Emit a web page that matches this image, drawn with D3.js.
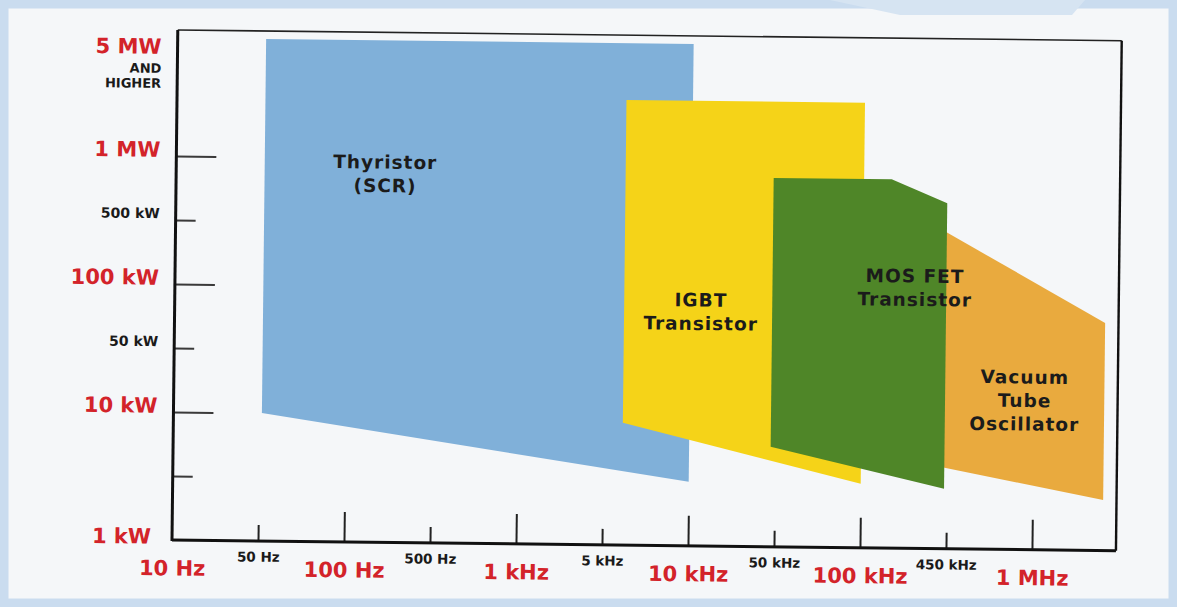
<!DOCTYPE html>
<html>
<head>
<meta charset="utf-8">
<script src="https://cdn.jsdelivr.net/npm/d3@7"></script>
<style>
  html, body { margin: 0; padding: 0; background: #f5f7f9; }
  svg { display: block; }
</style>
</head>
<body>
<div id="chart"></div>
<script>
// frequency axis (Hz) and power axis (kW)
const freqTicks = [10, 50, 100, 500, 1000, 5000, 10000, 50000, 100000, 450000, 1000000];
const freqLabels = ['10 Hz', '50 Hz', '100 Hz', '500 Hz', '1 kHz', '5 kHz', '10 kHz', '50 kHz', '100 kHz', '450 kHz', '1 MHz'];
const powerTicks = [1, 5, 10, 50, 100, 500, 1000, 5000];
const powerLabels = ['1 kW', '', '10 kW', '50 kW', '100 kW', '500 kW', '1 MW', '5 MW'];

// device regions, [Hz, kW] corners
const thyristor = [[51, 5000], [10000, 5000], [10000, 5], [51, 10]];
const igbt = [[5850, 2300], [100000, 2300], [100000, 5], [5850, 9.4]];
const vacuumTube = [[300000, 544], [3750000, 73.5], [3750000, 3.57], [300000, 6.28]];
const mosfet = [[46000, 848], [162000, 848], [430000, 659], [430000, 4.52], [46000, 7.38]];

const regionNames = [['Thyristor', '(SCR)'], ['IGBT', 'Transistor'], ['Vacuum', 'Tube', 'Oscillator'], ['MOS FET', 'Transistor']];
const labelAnchors = [[200, 960], [12100, 89.7], [919000, 30.7], [248000, 151]];

const width = 1177, height = 607;
const plotLeft = 172, plotBottom = 540, plotTop = 30, plotRight = 1116;
const step = 86;
const red = '#d3232a';
const font = "'DejaVu Sans', Verdana, sans-serif";

const svg = d3.select('#chart').append('svg')
    .attr('width', width)
    .attr('height', height);

// scanned page border
svg.append('rect')
    .attr('x', 4).attr('y', 4)
    .attr('width', width - 8).attr('height', height - 8)
    .attr('fill', '#f5f7f9')
    .attr('stroke', '#cadcef')
    .attr('stroke-width', 9);
svg.append('path')
    .attr('d', 'M830,0 L1085,0 L1072,15 L900,15 Z')
    .attr('fill', '#d6e4f2');

// piecewise log scales, ticks evenly spaced
const x = d3.scaleLog()
    .domain([...freqTicks, 5000000])
    .range(d3.range(freqTicks.length + 1).map(i => plotLeft + i * step));
const y = d3.scaleLog()
    .domain(powerTicks)
    .range(powerTicks.map((d, i) => i < 7 ? plotBottom - i * 64 : plotTop + 8));

const g = svg.append('g')
    .attr('transform', `rotate(0.65 ${plotLeft} ${plotBottom})`);

const colors = ['#80b0d9', '#f5d318', '#e9aa3e', '#4f8628'];
const shapes = [thyristor, igbt, vacuumTube, mosfet];

g.selectAll('path.region')
    .data(shapes)
    .enter()
    .append('path')
    .attr('class', 'region')
    .attr('d', d => 'M' + d.map(p => [x(p[0]), y(p[1])].join(',')).join('L') + 'Z')
    .attr('fill', (d, i) => colors[i]);

// frame
g.append('line').attr('x1', plotLeft).attr('x2', plotRight).attr('y1', plotTop).attr('y2', plotTop)
    .attr('stroke', '#222').attr('stroke-width', 1.6);
g.append('line').attr('x1', plotRight).attr('x2', plotRight).attr('y1', plotTop).attr('y2', plotBottom)
    .attr('stroke', '#111').attr('stroke-width', 2.4);

const isMajor = d => Math.abs(Math.log10(d) % 1) < 1e-9;

// x axis
const xAxis = d3.axisBottom(x)
    .tickValues(freqTicks)
    .tickFormat((d, i) => freqLabels[i])
    .tickSizeOuter(0);
const gx = g.append('g')
    .attr('transform', `translate(0,${plotBottom})`)
    .call(xAxis);
gx.select('.domain').remove();
gx.selectAll('.tick line')
    .attr('y2', d => d === 10 ? 0 : (isMajor(d) ? -30 : -16))
    .attr('stroke', '#222')
    .attr('stroke-width', 2);
gx.selectAll('.tick text')
    .attr('y', d => isMajor(d) ? 28 : 16)
    .attr('dy', '0.35em')
    .attr('fill', d => isMajor(d) ? red : '#1a1a1a')
    .attr('font-family', font)
    .attr('font-weight', 'bold')
    .attr('font-size', d => isMajor(d) ? 21 : 13.5);

// y axis
const yAxis = d3.axisLeft(y)
    .tickValues(powerTicks)
    .tickFormat((d, i) => powerLabels[i])
    .tickSizeOuter(0);
const gy = g.append('g')
    .attr('transform', `translate(${plotLeft},0)`)
    .call(yAxis);
gy.select('.domain').remove();
gy.selectAll('.tick line')
    .attr('x2', d => (d === 1 || d === 5000) ? 0 : (isMajor(d) ? 40 : 20))
    .attr('stroke', '#3a3a3a')
    .attr('stroke-width', 2);
gy.selectAll('.tick text')
    .attr('x', d => d === 1 ? -21 : -16)
    .attr('y', d => d === 5000 ? 8 : (d === 1 ? -4 : -7))
    .attr('dy', '0.35em')
    .attr('fill', d => isMajor(d) || d === 5000 ? red : '#1a1a1a')
    .attr('font-family', font)
    .attr('font-weight', 'bold')
    .attr('font-size', d => isMajor(d) || d === 5000 ? 21 : 14);

gy.selectAll('.tick')
    .filter(d => d === 5000)
    .selectAll('text.extra')
    .data(['AND', 'HIGHER'])
    .enter()
    .append('text')
    .attr('class', 'extra')
    .attr('x', -16)
    .attr('y', (d, i) => 30 + i * 15)
    .attr('dy', '0.35em')
    .attr('text-anchor', 'end')
    .attr('fill', '#1a1a1a')
    .attr('font-family', font)
    .attr('font-weight', 'bold')
    .attr('font-size', 13)
    .text(d => d);

// axis lines
g.append('line').attr('x1', plotLeft).attr('x2', plotLeft).attr('y1', plotTop).attr('y2', plotBottom + 1)
    .attr('stroke', '#111').attr('stroke-width', 3);
g.append('line').attr('x1', plotLeft).attr('x2', plotRight).attr('y1', plotBottom).attr('y2', plotBottom)
    .attr('stroke', '#111').attr('stroke-width', 3);

// region labels
regionNames.forEach((lines, i) => {
    const cx = x(labelAnchors[i][0]);
    const cy = y(labelAnchors[i][1]);
    g.append('text')
        .attr('text-anchor', 'middle')
        .attr('font-family', font)
        .attr('font-weight', 'bold')
        .attr('font-size', 18.5)
        .attr('letter-spacing', 1)
        .attr('fill', '#1b1b1b')
        .selectAll('tspan')
        .data(lines)
        .enter()
        .append('tspan')
        .attr('x', cx)
        .attr('y', (d, j) => cy + j * 23.5)
        .attr('dy', '0.35em')
        .text(d => d);
});
</script>
</body>
</html>
